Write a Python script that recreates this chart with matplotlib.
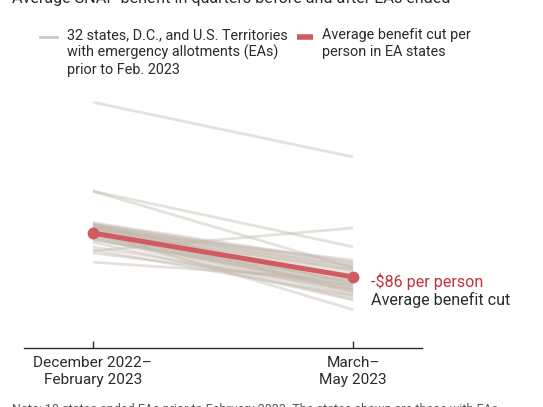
import matplotlib
matplotlib.use("Agg")
import matplotlib.pyplot as plt
from matplotlib.lines import Line2D

FONT = ["Roboto", "DejaVu Sans"]
GRAY = "#c3b9ad"
RED = "#d05b61"
RED_TEXT = "#c4303a"
DARK = "#2b2b2b"

periods = ["December 2022\u2013\nFebruary 2023", "March\u2013\nMay 2023"]

# average benefit per person, each state / territory (before, after)
state_before = [506, 332, 332, 215, 193, 252,
                270, 268, 266, 264, 262, 260, 258, 256, 254, 252,
                250, 248, 244, 240, 238, 236, 232, 223, 217, 211,
                266, 262, 258, 246, 242, 264, 268, 254, 260]
state_after = [399, 223, 182, 260, 158, 100,
               193, 187, 182, 178, 174, 168, 152, 146, 142, 139,
               135, 131, 127, 121, 148, 158, 119, 139, 127, 148,
               191, 162, 197, 154, 142, 135, 150, 178, 185]

avg_before = 250
avg_after = 164

W, H = 543, 407


def fx(px):
    return px / W


def fy(py):
    return 1 - py / H


def draw_legend(fig):
    fig.add_artist(Line2D([fx(40), fx(57)], [fy(37), fy(37)], color=GRAY,
                          lw=2, alpha=0.8, transform=fig.transFigure))
    fig.text(fx(67), fy(28), "32 states, D.C., and U.S. Territories\n"
             "with emergency allotments (EAs)\nprior to Feb. 2023",
             family=FONT, fontsize=10.4, color=DARK, va="top", ha="left",
             linespacing=1.25)
    fig.add_artist(Line2D([fx(297), fx(313)], [fy(37), fy(37)], color=RED,
                          lw=4, solid_capstyle="butt", transform=fig.transFigure))
    fig.text(fx(322), fy(28), "Average benefit cut per\nperson in EA states",
             family=FONT, fontsize=10.4, color=DARK, va="top", ha="left",
             linespacing=1.25)


def main():
    fig = plt.figure(figsize=(W / 100, H / 100), dpi=100)
    ax = fig.add_axes([fx(24), fy(348), fx(422) - fx(24), fy(90) - fy(348)])

    x = [0, 1]
    for b, a in zip(state_before, state_after):
        ax.plot(x, [b, a], color=GRAY, lw=2, alpha=0.42,
                solid_capstyle="butt", zorder=2)
    ax.plot(x, [avg_before, avg_after], color=RED, lw=3.6, marker="o",
            markersize=7.5, zorder=5)

    ax.text(1.07, avg_after - 9, f"-${avg_before - avg_after} per person",
            family=FONT, fontsize=11.6, color=RED_TEXT, va="center", ha="left")
    ax.text(1.07, avg_after - 45, "Average benefit cut",
            family=FONT, fontsize=11.6, color=DARK, va="center", ha="left")

    ax.set_xlim(-0.265, 1.265)
    ax.set_ylim(25, 530)
    ax.set_xticks(x)
    ax.set_xticklabels(periods, family=FONT, fontsize=11.1, color=DARK,
                       linespacing=1.2)
    ax.set_yticks([])
    for side in ["left", "right", "top"]:
        ax.spines[side].set_visible(False)
    ax.spines["bottom"].set_color(DARK)
    ax.spines["bottom"].set_linewidth(1)
    ax.tick_params(axis="x", direction="in", length=5, width=1, color=DARK, pad=6)
    ax.patch.set_alpha(0)

    fig.text(fx(12), fy(3), "Average SNAP benefit in quarters before and after EAs ended",
             family=FONT, fontsize=11.6, color=DARK, va="baseline", ha="left")
    fig.text(fx(12), fy(403), "Note: 18 states ended EAs prior to February 2023. "
             "The states shown are those with EAs.",
             family=FONT, fontsize=9, color="#555555", va="top", ha="left")

    draw_legend(fig)
    fig.savefig("out.png", dpi=100)


if __name__ == "__main__":
    main()
